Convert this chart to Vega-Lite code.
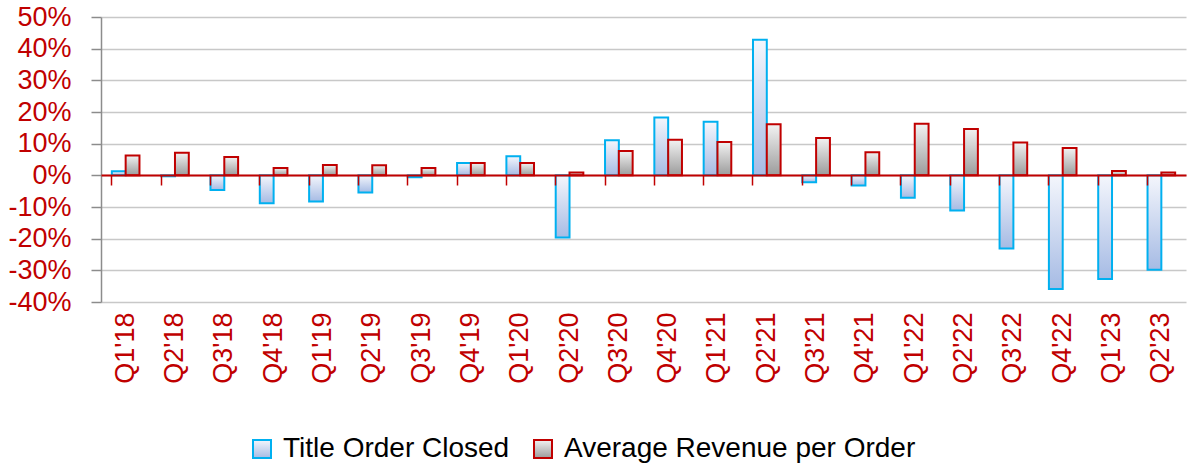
{
  "$schema": "https://vega.github.io/schema/vega-lite/v6.json",
  "width": 1085,
  "height": 285,
  "autosize": {"type": "none"},
  "padding": {"left": 101, "top": 17, "right": 1, "bottom": 163},
  "background": "#ffffff",
  "config": {
    "view": {"stroke": null},
    "font": "Liberation Sans"
  },
  "data": {
    "values": [
      {"q": "Q1'18", "series": "Title Order Closed", "v": 1.3},
      {"q": "Q1'18", "series": "Average Revenue per Order", "v": 6.3},
      {"q": "Q2'18", "series": "Title Order Closed", "v": -0.3},
      {"q": "Q2'18", "series": "Average Revenue per Order", "v": 7.1},
      {"q": "Q3'18", "series": "Title Order Closed", "v": -4.6},
      {"q": "Q3'18", "series": "Average Revenue per Order", "v": 5.8},
      {"q": "Q4'18", "series": "Title Order Closed", "v": -8.8},
      {"q": "Q4'18", "series": "Average Revenue per Order", "v": 2.3},
      {"q": "Q1'19", "series": "Title Order Closed", "v": -8.3},
      {"q": "Q1'19", "series": "Average Revenue per Order", "v": 3.3},
      {"q": "Q2'19", "series": "Title Order Closed", "v": -5.4},
      {"q": "Q2'19", "series": "Average Revenue per Order", "v": 3.2},
      {"q": "Q3'19", "series": "Title Order Closed", "v": -0.6},
      {"q": "Q3'19", "series": "Average Revenue per Order", "v": 2.3},
      {"q": "Q4'19", "series": "Title Order Closed", "v": 3.9},
      {"q": "Q4'19", "series": "Average Revenue per Order", "v": 3.9},
      {"q": "Q1'20", "series": "Title Order Closed", "v": 6.0},
      {"q": "Q1'20", "series": "Average Revenue per Order", "v": 3.9},
      {"q": "Q2'20", "series": "Title Order Closed", "v": -19.6},
      {"q": "Q2'20", "series": "Average Revenue per Order", "v": 0.9},
      {"q": "Q3'20", "series": "Title Order Closed", "v": 11.1},
      {"q": "Q3'20", "series": "Average Revenue per Order", "v": 7.7},
      {"q": "Q4'20", "series": "Title Order Closed", "v": 18.3},
      {"q": "Q4'20", "series": "Average Revenue per Order", "v": 11.2},
      {"q": "Q1'21", "series": "Title Order Closed", "v": 16.9},
      {"q": "Q1'21", "series": "Average Revenue per Order", "v": 10.5},
      {"q": "Q2'21", "series": "Title Order Closed", "v": 42.8},
      {"q": "Q2'21", "series": "Average Revenue per Order", "v": 16.1},
      {"q": "Q3'21", "series": "Title Order Closed", "v": -2.2},
      {"q": "Q3'21", "series": "Average Revenue per Order", "v": 11.8},
      {"q": "Q4'21", "series": "Title Order Closed", "v": -3.2},
      {"q": "Q4'21", "series": "Average Revenue per Order", "v": 7.3},
      {"q": "Q1'22", "series": "Title Order Closed", "v": -7.1},
      {"q": "Q1'22", "series": "Average Revenue per Order", "v": 16.3},
      {"q": "Q2'22", "series": "Title Order Closed", "v": -11.1},
      {"q": "Q2'22", "series": "Average Revenue per Order", "v": 14.6},
      {"q": "Q3'22", "series": "Title Order Closed", "v": -23.1},
      {"q": "Q3'22", "series": "Average Revenue per Order", "v": 10.4},
      {"q": "Q4'22", "series": "Title Order Closed", "v": -35.9},
      {"q": "Q4'22", "series": "Average Revenue per Order", "v": 8.6},
      {"q": "Q1'23", "series": "Title Order Closed", "v": -32.7},
      {"q": "Q1'23", "series": "Average Revenue per Order", "v": 1.4},
      {"q": "Q2'23", "series": "Title Order Closed", "v": -29.8},
      {"q": "Q2'23", "series": "Average Revenue per Order", "v": 0.9}
    ]
  },
  "encoding": {
    "x": {
      "field": "q",
      "type": "nominal",
      "sort": null,
      "scale": {"paddingInner": 0.44, "paddingOuter": 0.22}
    },
    "xOffset": {
      "field": "series",
      "type": "nominal",
      "sort": ["Title Order Closed", "Average Revenue per Order"],
      "scale": {"domain": ["Title Order Closed", "Average Revenue per Order"], "paddingInner": 0, "paddingOuter": 0}
    },
    "y": {
      "field": "v",
      "type": "quantitative",
      "scale": {"domain": [-40, 50], "nice": false, "zero": false},
      "axis": {
        "title": null,
        "values": [-40, -30, -20, -10, 0, 10, 20, 30, 40, 50],
        "labelExpr": "datum.value + '%'",
        "labelColor": "#c00000",
        "labelFontSize": 27,
        "labelFont": "Liberation Sans",
        "labelPadding": 20,
        "tickSize": 10,
        "tickColor": "#8c8c8c",
        "tickWidth": 1.5,
        "domainColor": "#8c8c8c",
        "domainWidth": 1.5,
        "grid": true,
        "gridColor": "#c8c8c8",
        "gridWidth": 1.5
      }
    },
    "fill": {
      "field": "series",
      "type": "nominal",
      "scale": {
        "domain": ["Title Order Closed", "Average Revenue per Order"],
        "range": [
          {"expr": "{gradient: 'linear', x1: 0, y1: 0, x2: 0, y2: 1, stops: [{offset: 0, color: '#f4f6fc'}, {offset: 1, color: '#a6bbe4'}]}"},
          {"expr": "{gradient: 'linear', x1: 0, y1: 0, x2: 0, y2: 1, stops: [{offset: 0, color: '#f2f2f2'}, {offset: 1, color: '#9c9c9c'}]}"}
        ]
      },
      "legend": {
        "title": null,
        "orient": "none",
        "direction": "horizontal",
        "legendX": 147,
        "legendY": 418,
        "padding": 0,
        "symbolType": "square",
        "symbolSize": 324,
        "symbolStrokeWidth": 2,
        "labelFontSize": 28,
        "labelFont": "Liberation Sans",
        "labelColor": "#000000",
        "labelOffset": 7,
        "columnPadding": 19,
        "labelLimit": 500
      }
    },
    "stroke": {
      "field": "series",
      "type": "nominal",
      "scale": {"domain": ["Title Order Closed", "Average Revenue per Order"], "range": ["#00b0f0", "#c00000"]},
      "legend": {
        "title": null,
        "orient": "none",
        "direction": "horizontal",
        "legendX": 147,
        "legendY": 418,
        "padding": 0,
        "symbolType": "square",
        "symbolSize": 324,
        "symbolStrokeWidth": 2,
        "labelFontSize": 28,
        "labelFont": "Liberation Sans",
        "labelColor": "#000000",
        "labelOffset": 7,
        "columnPadding": 19,
        "labelLimit": 500
      }
    }
  },
  "layer": [
    {
      "transform": [{"filter": "datum.series === 'Title Order Closed'"}],
      "mark": {"type": "bar", "strokeWidth": 2},
      "encoding": {
        "x": {
          "field": "q",
          "type": "nominal",
          "sort": null,
          "axis": {
            "title": null,
            "labelAngle": -90,
            "labelColor": "#c00000",
            "labelFontSize": 27,
            "labelFont": "Liberation Sans",
            "labelPadding": 10,
            "domain": false,
            "ticks": false,
            "grid": false
          }
        }
      }
    },
    {
      "transform": [{"filter": "datum.series === 'Average Revenue per Order'"}],
      "mark": {"type": "bar", "strokeWidth": 2},
      "encoding": {
        "x": {
          "field": "q",
          "type": "nominal",
          "sort": null,
          "axis": {
            "title": null,
            "orient": "bottom",
            "offset": -127,
            "labels": false,
            "domainColor": "#c00000",
            "domainWidth": 2,
            "tickColor": "#c00000",
            "tickSize": 10,
            "tickWidth": 1.5,
            "bandPosition": 0,
            "grid": false,
            "zindex": 1
          }
        }
      }
    }
  ],
  "resolve": {"axis": {"x": "independent"}}
}
